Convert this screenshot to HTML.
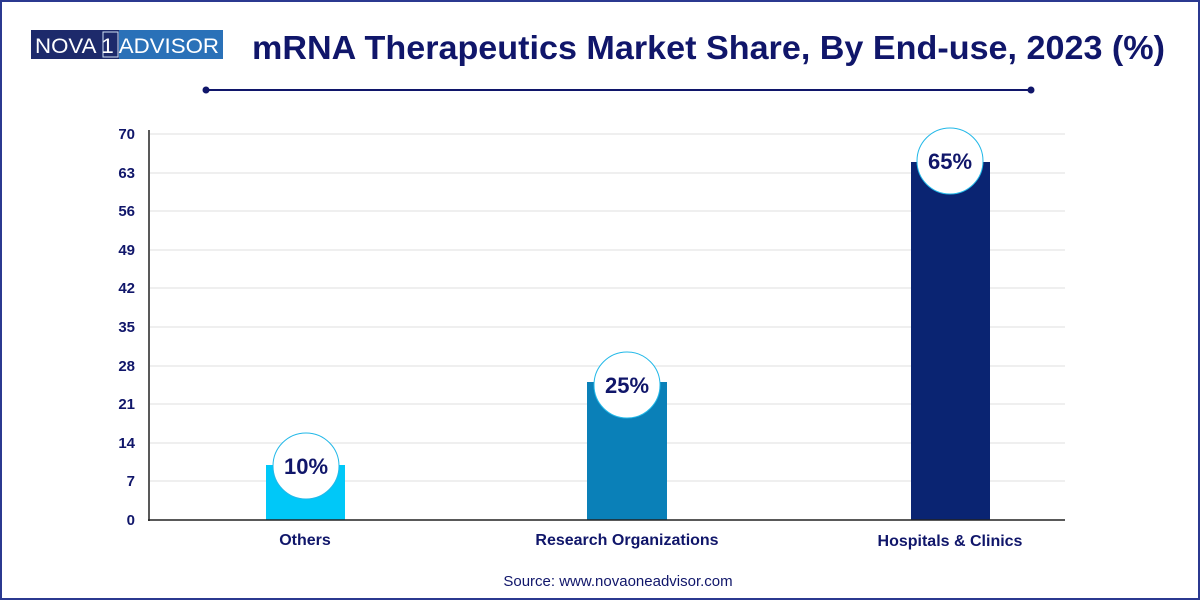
<!DOCTYPE html>
<html><head><style>
body{margin:0;width:1200px;height:600px;overflow:hidden;background:#fff;font-family:"Liberation Sans",sans-serif}
</style></head><body>
<svg width="1200" height="600" xmlns="http://www.w3.org/2000/svg" font-family="Liberation Sans, sans-serif">
<rect x="1" y="1" width="1198" height="598" fill="#fff" stroke="#2b3990" stroke-width="2"/>
<rect x="31" y="30" width="88" height="29" fill="#1d2a6b"/>
<rect x="119" y="30" width="104" height="29" fill="#2a71b8"/>
<rect x="103" y="32" width="15" height="25" fill="none" stroke="#cfe0f5" stroke-width="1"/>
<text x="35" y="53" font-size="21" fill="#fff" textLength="184" lengthAdjust="spacingAndGlyphs">NOVA 1 ADVISOR</text>
<text x="252" y="59" font-size="33" font-weight="bold" fill="#10166a" textLength="913" lengthAdjust="spacingAndGlyphs">mRNA Therapeutics Market Share, By End-use, 2023 (%)</text>
<line x1="206" y1="90" x2="1031" y2="90" stroke="#10166a" stroke-width="2"/>
<circle cx="206" cy="90" r="3.5" fill="#10166a"/><circle cx="1031" cy="90" r="3.5" fill="#10166a"/>
<g stroke="#efefef" stroke-width="2">
<line x1="150" y1="134" x2="1065" y2="134"/><line x1="150" y1="173" x2="1065" y2="173"/><line x1="150" y1="211" x2="1065" y2="211"/><line x1="150" y1="250" x2="1065" y2="250"/><line x1="150" y1="288" x2="1065" y2="288"/><line x1="150" y1="327" x2="1065" y2="327"/><line x1="150" y1="366" x2="1065" y2="366"/><line x1="150" y1="404" x2="1065" y2="404"/><line x1="150" y1="443" x2="1065" y2="443"/><line x1="150" y1="481" x2="1065" y2="481"/>
</g>
<g font-size="15" font-weight="bold" fill="#10166a" text-anchor="end">
<text x="135" y="139">70</text><text x="135" y="178">63</text><text x="135" y="216">56</text><text x="135" y="255">49</text><text x="135" y="293">42</text><text x="135" y="332">35</text><text x="135" y="371">28</text><text x="135" y="409">21</text><text x="135" y="448">14</text><text x="135" y="486">7</text><text x="135" y="525">0</text>
</g>
<rect x="266" y="465" width="79" height="55" fill="#00c8f8"/>
<rect x="587" y="382" width="80" height="138" fill="#0a80b8"/>
<rect x="911" y="162" width="79" height="358" fill="#0a2472"/>
<line x1="149" y1="130" x2="149" y2="521" stroke="#222" stroke-width="1.5"/>
<line x1="148" y1="520" x2="1065" y2="520" stroke="#222" stroke-width="1.5"/>
<g fill="#fff" stroke="#22b8e8" stroke-width="1">
<circle cx="306" cy="466" r="33"/><circle cx="627" cy="385" r="33"/><circle cx="950" cy="161" r="33"/>
</g>
<g font-size="22" font-weight="bold" fill="#10166a" text-anchor="middle">
<text x="306" y="474">10%</text><text x="627" y="393">25%</text><text x="950" y="169">65%</text>
</g>
<g font-size="16" font-weight="bold" fill="#10166a" text-anchor="middle">
<text x="305" y="545">Others</text><text x="627" y="545">Research Organizations</text><text x="950" y="546">Hospitals &amp; Clinics</text>
</g>
<text x="618" y="586" font-size="15" fill="#10166a" text-anchor="middle">Source: www.novaoneadvisor.com</text>
</svg>
</body></html>
